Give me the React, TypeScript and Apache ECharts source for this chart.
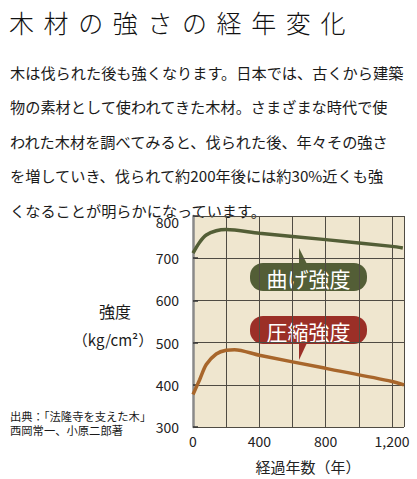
import React, { useEffect, useRef } from 'react';
import * as echarts from 'echarts';

// 経過年数 / 強度 (kg/cm²)
const bendYears = [0, 40, 80, 140, 200, 400, 800, 1200, 1265];
const bendValues = [712, 738, 755, 765, 768, 759, 744, 728, 724];
const compYears = [0, 40, 80, 140, 200, 250, 400, 800, 1200, 1272];
const compValues = [377, 412, 448, 473, 482, 483, 470, 439, 408, 400];

const xTickLabels = [0, 400, 800, 1200];

const titleText = '木材の強さの経年変化';
const introLines = [
	'木は伐られた後も強くなります。日本では、古くから建築',
	'物の素材として使われてきた木材。さまざまな時代で使',
	'われた木材を調べてみると、伐られた後、年々その強さ',
	'を増していき、伐られて約200年後には約30%近くも強',
	'くなることが明らかになっています。'
];
const sourceLines = ['出典：「法隆寺を支えた木」', '西岡常一、小原二郎著'];

const JP = '"Noto Sans CJK JP", "Noto Sans", sans-serif';
const GREEN = '#535e36';
const BROWN = '#a8662b';
const RED = '#9b2f27';

const App: React.FC = () => {
	const chartRef = useRef<HTMLDivElement>(null);

	useEffect(() => {
		document.body.style.margin = '0';
		if (!chartRef.current) return;
		const chart = echarts.init(chartRef.current, null, { renderer: 'svg' });

		// callout bubble: rounded box + pointer triangle
		const callout = (label: string, color: string, top: number, pointUp: boolean) => {
			const left = 250;
			const w = 117;
			const h = 28;
			const tri = pointUp
				? [[299, top + 1], [307, top + 1], [299, top - 15]]
				: [[299, top + h - 1], [307, top + h - 1], [299, top + h + 16]];
			return {
				type: 'group',
				children: [
					{ type: 'polygon', shape: { points: tri }, style: { fill: color } },
					{ type: 'rect', shape: { x: left, y: top, width: w, height: h, r: 13 }, style: { fill: color } },
					{
						type: 'text',
						style: {
							text: label,
							x: left + w / 2,
							y: top + h / 2 + 1,
							fill: '#fff',
							font: `21px ${JP}`,
							textAlign: 'center',
							textVerticalAlign: 'middle'
						}
					}
				]
			};
		};

		const textLine = (text: string, x: number, y: number, size: number, align = 'left') => ({
			type: 'text',
			style: { text, x, y, fill: '#1a1a1a', font: `${size}px ${JP}`, textAlign: align, textVerticalAlign: 'middle' }
		});

		const option: echarts.EChartsOption = {
			animation: false,
			backgroundColor: '#fff',
			grid: {
				left: 193,
				right: 13,
				top: 216,
				bottom: 52,
				show: true,
				backgroundColor: '#efe6cf',
				borderWidth: 0
			},
			xAxis: {
				type: 'value',
				min: 0,
				max: 1272,
				interval: 200,
				name: '経過年数（年）',
				nameLocation: 'middle',
				nameGap: 32,
				nameTextStyle: { color: '#222', fontSize: 15, fontFamily: JP, padding: [0, 0, 0, 19] },
				axisLine: { show: false },
				axisTick: { show: false },
				axisLabel: {
					color: '#222',
					fontSize: 14,
					fontFamily: JP,
					margin: 7,
					formatter: (v: number) => (xTickLabels.includes(v) ? v.toLocaleString('en-US') : '')
				},
				splitLine: { show: true, lineStyle: { color: '#4f4b43', width: 1 } }
			},
			yAxis: {
				type: 'value',
				min: 300,
				max: 800,
				interval: 100,
				offset: 8,
				axisLine: { show: true, lineStyle: { color: '#8a8a8a', width: 2.5 } },
				axisTick: { show: true, inside: true, length: 5, lineStyle: { color: '#333', width: 1.5 } },
				axisLabel: {
					color: '#222',
					fontSize: 14,
					fontFamily: JP,
					margin: 6,
					formatter: (v: number) => (v === 800 ? '{top|800}' : String(v)),
					rich: { top: { color: '#222', fontSize: 14, fontFamily: JP, padding: [11, 0, 0, 0] } }
				},
				splitLine: { show: true, lineStyle: { color: '#4f4b43', width: 1 } }
			},
			series: [
				{
					name: '曲げ強度',
					type: 'line',
					smooth: 0.3,
					showSymbol: false,
					lineStyle: { color: GREEN, width: 3.5 },
					data: bendYears.map((x, i) => [x, bendValues[i]])
				},
				{
					name: '圧縮強度',
					type: 'line',
					smooth: 0.3,
					showSymbol: false,
					lineStyle: { color: BROWN, width: 3.5 },
					data: compYears.map((x, i) => [x, compValues[i]])
				}
			],
			graphic: [
				...introLines.map((l, i) => textLine(l, 10, 72 + i * 34.4, 15.2)),
				textLine('強度', 115, 311, 16, 'center'),
				textLine('（kg/cm²）', 113, 339, 15, 'center'),
				textLine(sourceLines[0], 10, 416, 11.3),
				textLine(sourceLines[1], 10, 429.5, 11.3),
				callout('曲げ強度', GREEN, 263, true),
				callout('圧縮強度', RED, 316, false)
			] as any
		};

		chart.setOption(option);
		return () => {
			chart.dispose();
		};
	}, []);

	return (
		<div style={{ position: 'relative', width: '417px', height: '479px' }}>
			<div ref={chartRef} style={{ width: '417px', height: '479px' }} />
			<div
				style={{
					position: 'absolute',
					left: '9px',
					top: '4px',
					fontFamily: JP,
					fontWeight: 300,
					fontSize: '25px',
					letterSpacing: '9.6px',
					color: '#111',
					lineHeight: '36px',
					whiteSpace: 'nowrap'
				}}
			>
				{titleText}
			</div>
		</div>
	);
};

export default App;
